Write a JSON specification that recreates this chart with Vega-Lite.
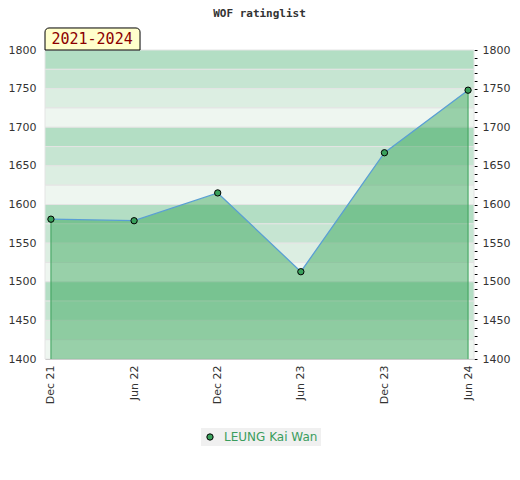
{
  "$schema": "https://vega.github.io/schema/vega-lite/v6.json",
  "width": 429,
  "height": 309,
  "padding": {"left": 8, "top": 8, "right": 5, "bottom": 5},
  "background": "white",
  "title": {
    "text": "WOF ratinglist",
    "font": "DejaVu Sans Mono",
    "fontSize": 11,
    "fontWeight": "bold",
    "color": "#333333",
    "anchor": "middle",
    "offset": 8
  },
  "config": {
    "view": {"stroke": null},
    "axis": {"labelFont": "DejaVu Sans", "labelFontSize": 11, "labelColor": "#333333", "title": null, "grid": false}
  },
  "datasets": {
    "ratings": [
      {"player": "LEUNG Kai Wan", "date": "2021-12-01", "rating": 1581},
      {"player": "LEUNG Kai Wan", "date": "2022-06-01", "rating": 1579},
      {"player": "LEUNG Kai Wan", "date": "2022-12-01", "rating": 1615},
      {"player": "LEUNG Kai Wan", "date": "2023-06-01", "rating": 1513},
      {"player": "LEUNG Kai Wan", "date": "2023-12-01", "rating": 1667},
      {"player": "LEUNG Kai Wan", "date": "2024-06-01", "rating": 1748}
    ],
    "bands": [
      {"lo": 1775, "hi": 1800, "shade": "a"},
      {"lo": 1750, "hi": 1775, "shade": "b"},
      {"lo": 1725, "hi": 1750, "shade": "c"},
      {"lo": 1700, "hi": 1725, "shade": "d"},
      {"lo": 1675, "hi": 1700, "shade": "a"},
      {"lo": 1650, "hi": 1675, "shade": "b"},
      {"lo": 1625, "hi": 1650, "shade": "c"},
      {"lo": 1600, "hi": 1625, "shade": "d"},
      {"lo": 1575, "hi": 1600, "shade": "a"},
      {"lo": 1550, "hi": 1575, "shade": "b"},
      {"lo": 1525, "hi": 1550, "shade": "c"},
      {"lo": 1500, "hi": 1525, "shade": "d"},
      {"lo": 1475, "hi": 1500, "shade": "a"},
      {"lo": 1450, "hi": 1475, "shade": "b"},
      {"lo": 1425, "hi": 1450, "shade": "c"},
      {"lo": 1400, "hi": 1425, "shade": "d"}
    ],
    "period": [
      {"label": "2021-2024", "start": "2021-11-18", "end": "2022-06-14", "mid": "2022-03-01", "lo": 1800, "hi": 1828.5, "ty": 1814}
    ]
  },
  "resolve": {"axis": {"y": "independent"}, "scale": {"color": "independent", "fill": "independent"}},
  "layer": [
    {
      "data": {"name": "bands"},
      "mark": {"type": "rect", "stroke": "#e4e4e4", "strokeWidth": 1},
      "encoding": {
        "y": {
          "field": "lo", "type": "quantitative",
          "scale": {"domain": [1400, 1800], "nice": false, "zero": false},
          "axis": {
            "orient": "left", "values": [1400, 1450, 1500, 1550, 1600, 1650, 1700, 1750, 1800],
            "format": "d", "ticks": false, "domain": false, "labelPadding": 9
          }
        },
        "y2": {"field": "hi"},
        "fill": {
          "field": "shade", "type": "nominal", "legend": null,
          "scale": {"domain": ["a", "b", "c", "d"], "range": ["#b3dec4", "#c6e5d2", "#dceee2", "#eef6f0"]}
        }
      }
    },
    {
      "data": {"name": "ratings"},
      "mark": {"type": "area", "fill": "#32a355", "fillOpacity": 0.46},
      "encoding": {
        "x": {
          "field": "date", "type": "temporal",
          "scale": {"type": "utc", "domain": [{"year": 2021, "month": 11, "date": 18, "utc": true}, {"year": 2024, "month": 6, "date": 14, "utc": true}]},
          "axis": {
            "values": [
              {"year": 2021, "month": 12, "date": 1, "utc": true},
              {"year": 2022, "month": 6, "date": 1, "utc": true},
              {"year": 2022, "month": 12, "date": 1, "utc": true},
              {"year": 2023, "month": 6, "date": 1, "utc": true},
              {"year": 2023, "month": 12, "date": 1, "utc": true},
              {"year": 2024, "month": 6, "date": 1, "utc": true}
            ],
            "labelExpr": "utcFormat(datum.value, '%b %y')", "labelAngle": -90, "ticks": false,
            "domainColor": "#cccccc", "labelPadding": 6, "zindex": 1
          }
        },
        "y": {"field": "rating", "type": "quantitative", "axis": null},
        "y2": {"datum": 1400}
      }
    },
    {
      "data": {"name": "ratings"},
      "transform": [{"filter": "datum.rating == 1581 || datum.rating == 1748"}],
      "mark": {"type": "rule", "color": "#3aa05a", "strokeWidth": 1},
      "encoding": {
        "x": {"field": "date", "type": "temporal"},
        "y": {"field": "rating", "type": "quantitative", "axis": null},
        "y2": {"datum": 1400}
      }
    },
    {
      "mark": {"type": "rule", "color": "#cccccc", "strokeWidth": 1},
      "encoding": {"x": {"datum": {"year": 2021, "month": 11, "date": 18, "utc": true}, "type": "temporal"}}
    },
    {
      "data": {"name": "ratings"},
      "mark": {"type": "line", "color": "#5a9fd4", "strokeWidth": 1.3},
      "encoding": {
        "x": {"field": "date", "type": "temporal"},
        "y": {"field": "rating", "type": "quantitative", "axis": null}
      }
    },
    {
      "data": {"name": "ratings"},
      "mark": {"type": "point", "shape": "circle", "filled": true, "size": 40, "stroke": "black", "strokeWidth": 1, "opacity": 1},
      "encoding": {
        "x": {"field": "date", "type": "temporal"},
        "y": {
          "field": "rating", "type": "quantitative",
          "axis": {
            "orient": "right",
            "values": [1400, 1410, 1420, 1430, 1440, 1450, 1460, 1470, 1480, 1490, 1500, 1510, 1520, 1530, 1540, 1550, 1560, 1570, 1580, 1590, 1600, 1610, 1620, 1630, 1640, 1650, 1660, 1670, 1680, 1690, 1700, 1710, 1720, 1730, 1740, 1750, 1760, 1770, 1780, 1790, 1800],
            "format": "d",
            "labelExpr": "datum.value % 50 === 0 ? datum.label : ''",
            "tickSize": 3, "tickColor": "black", "domain": false, "labelPadding": 5
          }
        },
        "color": {
          "field": "player", "type": "nominal",
          "scale": {"range": ["#3aa15c"]},
          "legend": {
            "title": null, "orient": "none", "legendX": 156, "legendY": 378, "direction": "horizontal",
            "fillColor": "#f0f0f0", "padding": 3,
            "symbolType": "circle", "symbolSize": 40, "symbolStrokeColor": "black", "symbolStrokeWidth": 1,
            "labelColor": "#3a9d5d", "labelFont": "DejaVu Sans", "labelFontSize": 12, "labelOffset": 8
          }
        }
      }
    },
    {
      "data": {"name": "period"},
      "mark": {"type": "rect", "fill": "#ffffcc", "stroke": "black", "strokeWidth": 1, "cornerRadiusTopLeft": 4, "cornerRadiusTopRight": 4},
      "encoding": {
        "x": {"field": "start", "type": "temporal"},
        "x2": {"field": "end"},
        "y": {"field": "lo", "type": "quantitative", "axis": null},
        "y2": {"field": "hi"}
      }
    },
    {
      "data": {"name": "period"},
      "mark": {"type": "text", "font": "DejaVu Sans Mono", "fontSize": 15, "color": "#8b0000"},
      "encoding": {
        "x": {"field": "mid", "type": "temporal"},
        "y": {"field": "ty", "type": "quantitative", "axis": null},
        "text": {"field": "label"}
      }
    }
  ]
}
